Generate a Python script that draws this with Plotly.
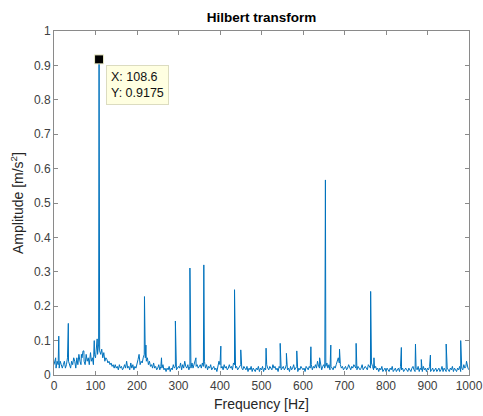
import numpy as np
import plotly.graph_objects as go

# ---- data ----
step = 2.5  # Hz between noise-floor samples
noise_floor = [
    0.03,0.05,0.02,0.04,0.03,0.02,0.04,0.03,0.02,0.03,0.04,0.02,0.03,0.05,0.04,0.03,0.02,0.04,0.03,0.05,
    0.04,0.02,0.05,0.03,0.06,0.04,0.03,0.05,0.07,0.04,0.03,0.06,0.04,0.05,0.03,0.06,0.04,0.05,0.03,0.06,
    0.05,0.08,0.06,0.09,0.07,0.06,0.075,0.05,0.065,0.04,0.05,0.045,0.035,0.04,0.03,0.035,0.025,0.03,0.02,0.03,
    0.02,0.025,0.015,0.03,0.02,0.025,0.015,0.02,0.03,0.02,0.04,0.02,0.025,0.015,0.035,0.02,0.03,0.015,0.025,0.02,
    0.03,0.045,0.06,0.03,0.04,0.035,0.05,0.06,0.05,0.04,0.05,0.03,0.04,0.025,0.03,0.02,0.035,0.02,0.025,0.015,
    0.02,0.03,0.015,0.025,0.02,0.03,0.015,0.02,0.01,0.02,0.015,0.025,0.01,0.02,0.015,0.03,0.02,0.025,0.015,0.02,
    0.025,0.02,0.035,0.015,0.03,0.02,0.04,0.025,0.02,0.03,0.015,0.025,0.02,0.035,0.02,0.03,0.04,0.025,0.03,0.02,
    0.025,0.03,0.02,0.035,0.025,0.04,0.02,0.03,0.015,0.025,0.02,0.03,0.015,0.02,0.025,0.015,0.02,0.01,0.025,0.04,
    0.03,0.02,0.025,0.015,0.03,0.02,0.025,0.015,0.02,0.03,0.02,0.025,0.015,0.035,0.03,0.02,0.025,0.015,0.02,0.025,
    0.03,0.02,0.015,0.025,0.02,0.015,0.025,0.01,0.02,0.015,0.025,0.01,0.02,0.015,0.01,0.02,0.015,0.025,0.01,0.02,
    0.015,0.025,0.01,0.02,0.015,0.03,0.02,0.015,0.025,0.02,0.015,0.03,0.02,0.025,0.015,0.02,0.01,0.025,0.02,0.015,
    0.02,0.025,0.015,0.02,0.03,0.015,0.02,0.01,0.025,0.015,0.02,0.03,0.015,0.02,0.025,0.01,0.02,0.015,0.025,0.02,
    0.015,0.02,0.01,0.025,0.02,0.015,0.025,0.02,0.03,0.015,0.025,0.02,0.03,0.02,0.04,0.025,0.02,0.03,0.015,0.025,
    0.03,0.02,0.025,0.035,0.02,0.03,0.015,0.025,0.02,0.015,0.025,0.02,0.03,0.04,0.05,0.035,0.03,0.02,0.025,0.015,
    0.02,0.025,0.015,0.02,0.03,0.02,0.015,0.025,0.02,0.03,0.025,0.02,0.015,0.025,0.02,0.015,0.02,0.03,0.015,0.02,
    0.025,0.02,0.015,0.03,0.025,0.02,0.035,0.025,0.015,0.02,0.025,0.015,0.02,0.01,0.02,0.015,0.025,0.01,0.015,0.02,
    0.01,0.02,0.015,0.01,0.02,0.015,0.025,0.01,0.015,0.02,0.01,0.015,0.02,0.01,0.025,0.015,0.02,0.01,0.015,0.02,
    0.015,0.01,0.02,0.015,0.01,0.02,0.025,0.015,0.01,0.02,0.015,0.025,0.01,0.02,0.015,0.01,0.025,0.015,0.02,0.01,
    0.02,0.015,0.025,0.01,0.015,0.02,0.01,0.015,0.02,0.01,0.015,0.02,0.01,0.015,0.025,0.01,0.02,0.015,0.01,0.02,
    0.015,0.01,0.02,0.015,0.025,0.01,0.02,0.015,0.01,0.02,0.015,0.025,0.01,0.02,0.015,0.03,0.02,0.025,0.03,0.02,
    0.015,
]
peak_freqs = [4, 11.5, 34.5, 66, 72, 88, 97, 104, 108.6, 218, 221.5, 259, 292.5, 327.5, 342,
              361, 402, 435, 450, 511, 545, 560, 585, 619, 640, 654, 667, 688, 728, 763,
              771, 837, 871, 885, 907, 945, 980, 994]
peak_amps = [0.05, 0.113, 0.15, 0.06, 0.07, 0.065, 0.10, 0.105, 0.9175, 0.228, 0.087, 0.05, 0.157, 0.311, 0.05,
             0.32, 0.084, 0.248, 0.073, 0.078, 0.092, 0.063, 0.07, 0.082, 0.05, 0.567, 0.087, 0.075, 0.092, 0.243,
             0.05, 0.08, 0.09, 0.045, 0.058, 0.09, 0.10, 0.04]
tip_x = 108.6
tip_y = 0.9175
x_ticks = [0, 100, 200, 300, 400, 500, 600, 700, 800, 900, 1000]
y_ticks = [0, 0.1, 0.2, 0.3, 0.4, 0.5, 0.6, 0.7, 0.8, 0.9, 1]
y_tick_labels = ["0", "0.1", "0.2", "0.3", "0.4", "0.5", "0.6", "0.7", "0.8", "0.9", "1"]

# merge noise floor and spectral peaks into one sorted spectrum
noise_f = np.arange(len(noise_floor)) * step
freq = np.concatenate([noise_f, np.array(peak_freqs, float)])
amp = np.concatenate([np.array(noise_floor, float), np.array(peak_amps, float)])
order = np.argsort(freq, kind="stable")
freq, amp = freq[order], amp[order]

FONT = "Liberation Sans, Arial, Helvetica, sans-serif"
AX = "#262626"

fig = go.Figure()
fig.add_trace(go.Scatter(x=freq, y=amp, mode="lines",
                         line=dict(color="#0072BD", width=1), hoverinfo="skip",
                         showlegend=False))
fig.add_trace(go.Scatter(x=[tip_x], y=[tip_y], mode="markers",
                         marker=dict(symbol="square", size=9, color="black",
                                     line=dict(color="#EDEDC8", width=1)),
                         showlegend=False, hoverinfo="skip"))
fig.add_annotation(x=tip_x, y=tip_y, xref="x", yref="y",
                   text=f"X: {tip_x}<br>Y: {tip_y}", showarrow=False,
                   xanchor="left", yanchor="top", xshift=7, yshift=-6,
                   align="left", bgcolor="#FFFFE1", bordercolor="#DCDCC0",
                   borderwidth=1, borderpad=4,
                   font=dict(family=FONT, size=12.5, color="#111111"))

axis_common = dict(showline=True, linecolor="#8a8a8a", linewidth=1, mirror="ticks",
                   ticks="inside", ticklen=4, tickcolor="#8a8a8a", showgrid=False,
                   zeroline=False, automargin=False,
                   tickfont=dict(family=FONT, size=12, color="#404040"))
fig.update_xaxes(range=[0, 1000], tickvals=x_ticks,
                 title=dict(text="Frequency [Hz]", standoff=6,
                            font=dict(family=FONT, size=14, color=AX)),
                 **axis_common)
fig.update_yaxes(range=[0, 1], tickvals=y_ticks, ticktext=y_tick_labels,
                 title=dict(text="Amplitude [m/s<sup>2</sup>]", standoff=7,
                            font=dict(family=FONT, size=14, color=AX)),
                 **axis_common)
fig.update_layout(
    width=483, height=416, autosize=False,
    margin=dict(l=54, r=14, t=31, b=41, pad=0, autoexpand=False),
    paper_bgcolor="white", plot_bgcolor="white",
    title=dict(text="<b>Hilbert transform</b>", x=0.5, xref="paper", xanchor="center",
               y=1, yref="paper", yanchor="bottom", pad=dict(b=9),
               font=dict(family=FONT, size=13.5, color="#000000")),
)
fig.write_html("out.html")
